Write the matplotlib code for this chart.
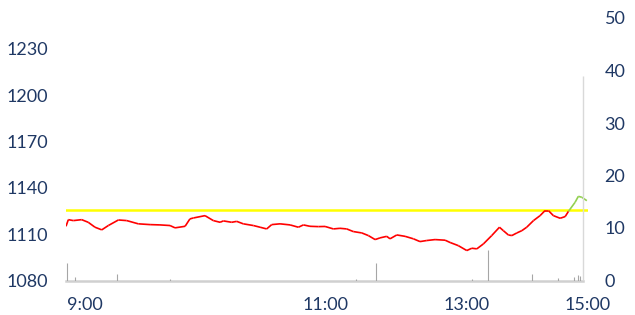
import numpy as np
import matplotlib
matplotlib.use("Agg")
import matplotlib.pyplot as plt
from matplotlib.collections import LineCollection

# price line (minutes from open, price)
price_min = [0, 1.2, 3.8, 8.1, 11.5, 15.0, 18.5, 21.9, 27.1, 31.4, 37.4, 43.5, 48.6,
             53.8, 56.4, 61.6, 64.1, 65.9, 71.9, 76.2, 79.7, 81.4, 85.7, 88.3, 91.7,
             96.9, 100.4, 103.8, 106.4, 110.7, 115.9, 120.2, 122.8, 126.2, 130.5, 134.0,
             138.3, 141.7, 145.2, 148.6, 153.0, 156.4, 159.9, 162.4, 165.9, 167.6, 171.1,
             175.4, 179.7, 183.1, 186.6, 190.9, 196.1, 198.7, 202.9, 207.3, 209.9, 212.5,
             215.9, 220.2, 224.2, 226.2, 228.8, 230.6, 233.2, 235.8, 238.3, 241.8, 245.2,
             247.8, 249.5, 252.1, 255.6, 258.2, 259.9, 263.3, 265.0, 266.8, 269.4]
price = [1115.1, 1119.4, 1118.8, 1119.4, 1117.7, 1114.5, 1112.8, 1115.6, 1119.2, 1118.8,
         1116.7, 1116.2, 1116.0, 1115.6, 1114.1, 1115.1, 1119.9, 1120.5, 1122.0, 1118.8,
         1117.7, 1118.6, 1117.7, 1118.3, 1116.7, 1115.6, 1114.5, 1113.4, 1116.2, 1116.7,
         1116.0, 1114.5, 1116.0, 1115.1, 1114.9, 1115.0, 1113.4, 1113.8, 1113.4, 1111.7,
         1110.8, 1109.1, 1106.5, 1107.6, 1108.6, 1107.0, 1109.5, 1108.6, 1107.0, 1105.2,
         1105.9, 1106.5, 1106.1, 1104.6, 1102.6, 1099.4, 1100.9, 1100.5, 1103.7, 1109.1,
         1114.5, 1112.3, 1109.5, 1109.1, 1110.8, 1112.3, 1114.5, 1118.8, 1122.0, 1125.3,
         1125.3, 1122.0, 1120.3, 1121.4, 1124.8, 1130.6, 1134.5, 1133.9, 1131.7]
ref_price = 1125.5

# volume bars (minutes from open, volume)
vol_min = [0.7, 4.7, 26.5, 53.8, 150, 160.2, 210, 218.5, 241.2, 254.7, 263, 265, 266]
vol = [3.3, 0.6, 1.2, 0.2, 0.3, 3.4, 0.3, 5.9, 1.2, 0.5, 0.7, 1.0, 0.8]
close_min = 267.6
close_vol = 39.0

tick_pos = [9.8, 134, 207, 270]
tick_lab = ["9:00", "11:00", "13:00", "15:00"]

plt.rcParams['font.family'] = ['Lato', 'DejaVu Sans']
navy = "#1F3864"

fig = plt.figure(figsize=(6.35, 3.15), dpi=100)
ax = fig.add_axes([66 / 635, 34.5 / 315, 522 / 635, 262.5 / 315])
ax2 = ax.twinx()

# price line, green where above the reference
pts = np.column_stack([price_min, price])
segs = np.stack([pts[:-1], pts[1:]], axis=1)
p = np.array(price)
cols = ["#92D050" if max(a, b) > ref_price else "#FF0000" for a, b in zip(p[:-1], p[1:])]
lc = LineCollection(segs, colors=cols, linewidths=1.2)
ax.add_collection(lc)
ax.axhline(ref_price, color="#FFFF00", lw=1.8, zorder=1)

ax.set_xlim(0, 270)
ax.set_ylim(1080, 1250)
ax.set_yticks(range(1080, 1231, 30))
ax.set_xticks(tick_pos)
ax.set_xticklabels(tick_lab)

ax2.vlines(vol_min, 0, vol, color="#A6A6A6", lw=0.8)
ax2.vlines([close_min], 0, [close_vol], color="#D9D9D9", lw=1.0)
ax2.set_ylim(0, 50)
ax2.set_yticks(range(0, 51, 10))

for a in (ax, ax2):
    for s in a.spines.values():
        s.set_visible(False)
    a.tick_params(length=0, labelsize=13, labelcolor=navy)
ax.tick_params(axis="y", pad=13)
ax.tick_params(axis="x", pad=12)
ax2.tick_params(axis="y", pad=12)
ax.spines["bottom"].set_visible(True)
ax.spines["bottom"].set_color("#D0D0D0")
ax.spines["bottom"].set_linewidth(1.8)
ax.spines["bottom"].set_bounds(0, 267.6)

fig.savefig("out.png", dpi=100)
